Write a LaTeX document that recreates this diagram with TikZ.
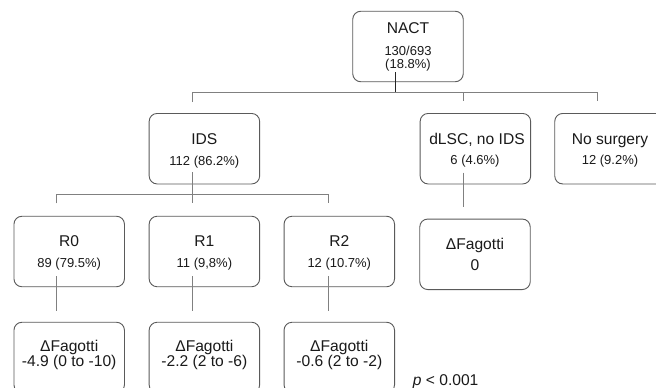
\documentclass[tikz,border=0pt]{standalone}
\usepackage{fontspec}
\setmainfont{Liberation Sans}
\definecolor{boxc}{HTML}{5A5A5A}
\definecolor{linec}{HTML}{808080}
\definecolor{txt}{HTML}{1A1A1A}
\begin{document}
\begin{tikzpicture}[x=1pt,y=-1pt,
  box/.style={draw=boxc, line width=0.9pt, rounded corners=8pt, minimum width=110.5pt, minimum height=70.5pt, inner sep=0pt},
  big/.style={anchor=base, text=txt, font=\fontsize{15.6}{18}\selectfont, inner sep=0pt},
  small/.style={anchor=base, text=txt, font=\fontsize{13}{15}\selectfont, inner sep=0pt},
  link/.style={draw=linec, line width=0.8pt},
  trunk/.style={draw=black!85, line width=1.3pt},
]
\useasboundingbox (0,0) rectangle (656,388);
\clip (0,0) rectangle (656,388);
\fill[white] (0,0) rectangle (656,388);

% boxes
\node[box] (nact) at (408,46.5) {};
\node[box] (ids)  at (204.4,148.7) {};
\node[box] (dlsc) at (475.4,148.7) {};
\node[box] (nos)  at (610,148.7) {};
\node[box] (r0)   at (69.2,251.5) {};
\node[box] (r1)   at (204.4,251.5) {};
\node[box] (r2)   at (339.3,251.5) {};
\node[box] (fd)   at (475,254.3) {};
\node[box] (f0)   at (69.2,357.5) {};
\node[box] (f1)   at (204.4,357.5) {};
\node[box] (f2)   at (339.3,357.5) {};

% texts
\node[big]   (nact-t) at (408,34) {NACT};
\node[small] (nact-a) at (408,55) {130/693};
\node[small] (nact-b) at (408,68.3) {(18.8\%)};

\node[big]   (ids-t) at (204.4,144) {IDS};
\node[small] (ids-a) at (204.4,165) {112 (86.2\%)};

\node[big]   (dlsc-t) at (477,144.3) {dLSC, no IDS};
\node[small] (dlsc-a) at (475,164.5) {6 (4.6\%)};

\node[big]   (nos-t) at (610,144.3) {No surgery};
\node[small] (nos-a) at (610,164.5) {12 (9.2\%)};

\node[big]   (r0-t) at (69.2,246.7) {R0};
\node[small] (r0-a) at (69.2,267.7) {89 (79.5\%)};
\node[big]   (r1-t) at (204.4,246.7) {R1};
\node[small] (r1-a) at (204.4,267.7) {11 (9,8\%)};
\node[big]   (r2-t) at (339.3,246.7) {R2};
\node[small] (r2-a) at (339.3,267.7) {12 (10.7\%)};

\node[big] (fd-t) at (475,249) {ΔFagotti};
\node[big] (fd-a) at (475,270.7) {0};

\node[big] (f0-t) at (69.2,351) {ΔFagotti};
\node[big] (f0-a) at (69.2,366.5) {-4.9 (0 to -10)};
\node[big] (f1-t) at (204.4,351) {ΔFagotti};
\node[big] (f1-a) at (204.4,366.5) {-2.2 (2 to -6)};
\node[big] (f2-t) at (339.3,351) {ΔFagotti};
\node[big] (f2-a) at (339.3,366.5) {-0.6 (2 to -2)};

\node[big, anchor=base west] (pval) at (412.7,385.5) {\textit{p} < 0.001};

% connector coordinates
\coordinate (nact-out) at (395.7,72);
\coordinate (bus1) at (395.7,92);
\coordinate (bus1-l) at (192.3,92);
\coordinate (bus1-m) at (463.3,92);
\coordinate (bus1-r) at (597.7,92);
\coordinate (ids-in) at (192.3,102);
\coordinate (dlsc-in) at (463.3,101);
\coordinate (nos-in) at (597.7,101);

\coordinate (ids-out) at (192.3,172);
\coordinate (bus2-l) at (56.7,194.3);
\coordinate (bus2-r) at (328.3,194.3);
\coordinate (r0-in) at (56.7,203.3);
\coordinate (r1-in) at (192.3,203.3);
\coordinate (r2-in) at (328.3,203.3);

\coordinate (r0-out) at (56.7,276);
\coordinate (r1-out) at (192.3,276);
\coordinate (r2-out) at (328.3,276);
\coordinate (f0-in) at (56.7,311);
\coordinate (f1-in) at (192.3,311);
\coordinate (f2-in) at (328.3,311);

\coordinate (dlsc-out) at (463.3,172.7);
\coordinate (fd-in) at (463.3,206.7);

% connectors
\draw[link] (ids-in) -- (bus1-l) -- (bus1-r) -- (nos-in);
\draw[link] (bus1-m) -- (dlsc-in);
\draw[trunk] (nact-out) -- (bus1);

\draw[link] (ids-out) -- (r1-in);
\draw[link] (r0-in) -- (bus2-l) -- (bus2-r) -- (r2-in);

\draw[link] (r0-out) -- (f0-in);
\draw[link] (r1-out) -- (f1-in);
\draw[link] (r2-out) -- (f2-in);
\draw[link] (dlsc-out) -- (fd-in);
\end{tikzpicture}
\end{document}
